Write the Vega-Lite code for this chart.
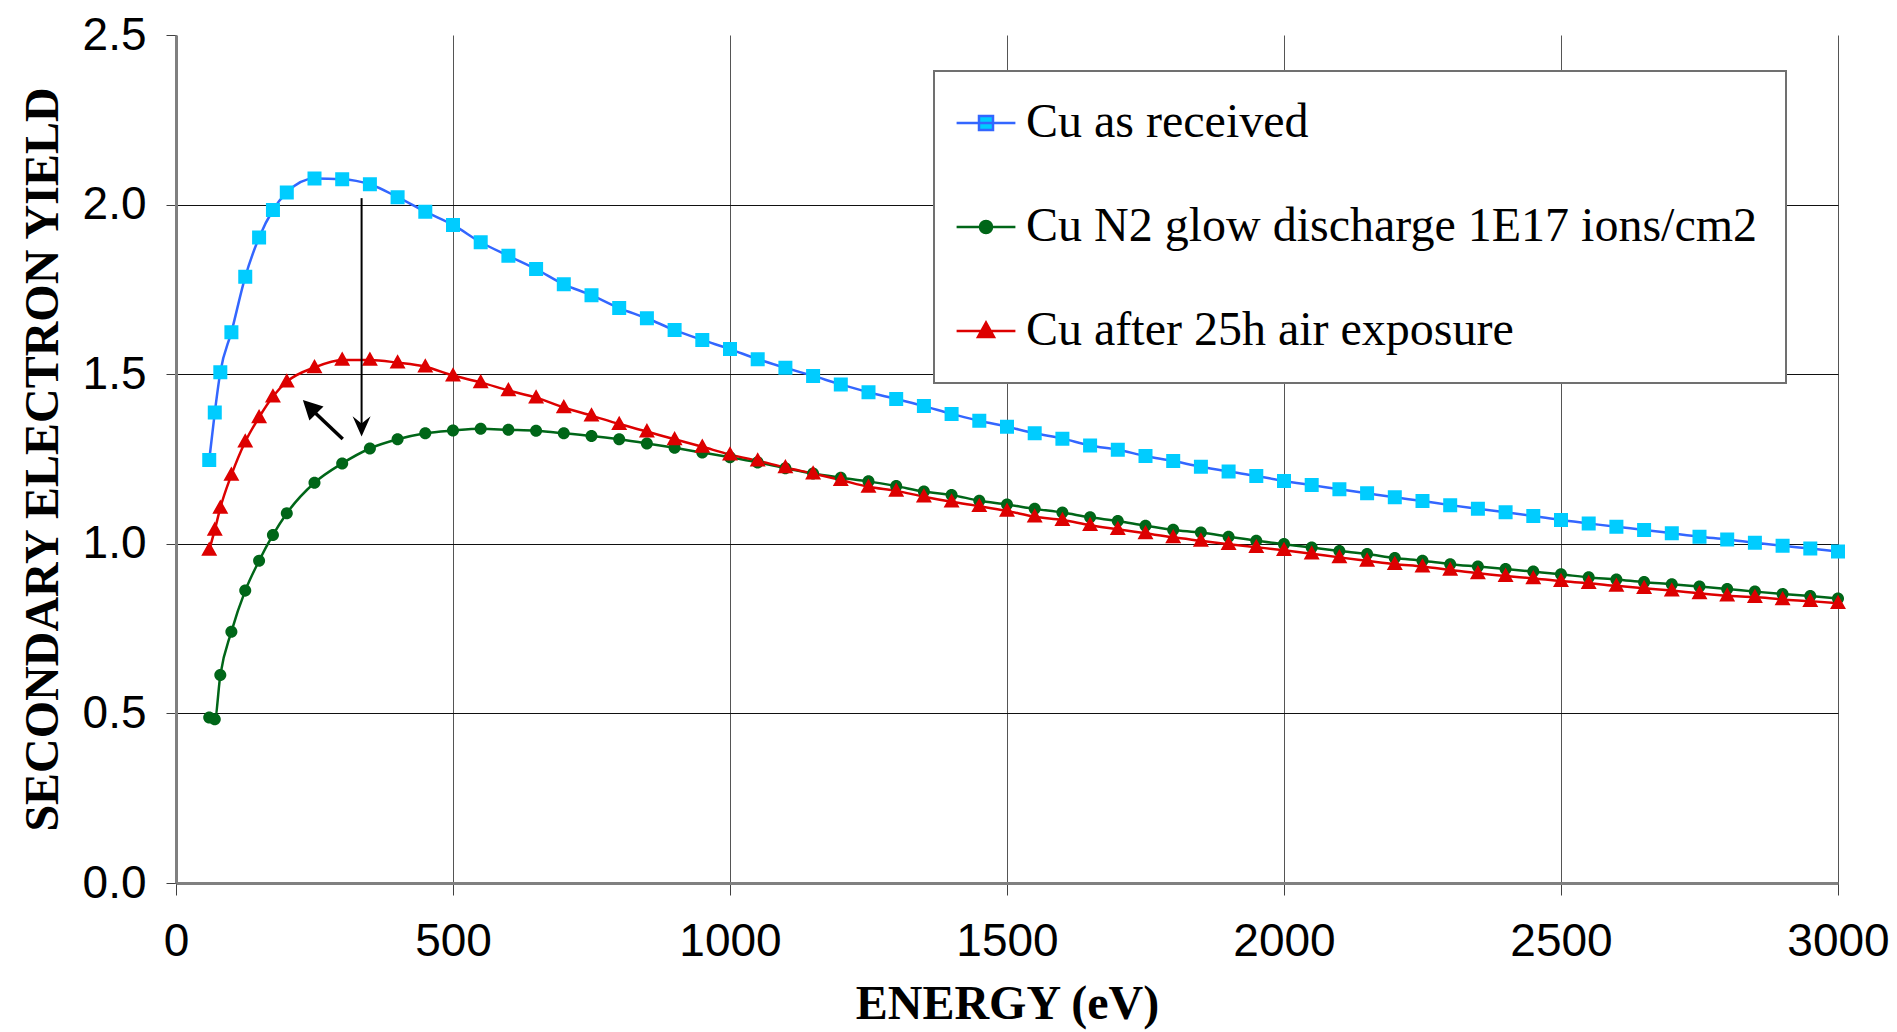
{
  "$schema": "https://vega.github.io/schema/vega-lite/v6.json",
  "width": 1662,
  "height": 848,
  "autosize": {"type": "none"},
  "padding": {"left": 176, "top": 35, "right": 59, "bottom": 149},
  "background": "white",
  "config": {
    "view": {"stroke": null},
    "axis": {
      "labelFont": "Liberation Sans",
      "labelFontSize": 46,
      "labelColor": "black",
      "labelFlush": false,
      "labelOverlap": false,
      "titleFont": "Liberation Serif",
      "titleFontSize": 48,
      "titleFontWeight": "bold",
      "titleColor": "black",
      "tickColor": "#404040",
      "tickWidth": 1,
      "domainColor": "#808080",
      "domainWidth": 3,
      "grid": true,
      "gridWidth": 1
    },
    "legend": {
      "orient": "none",
      "legendX": 758,
      "legendY": 36,
      "labelFont": "Liberation Serif",
      "labelFontSize": 48,
      "labelColor": "black",
      "labelLimit": 1200,
      "labelOffset": 16,
      "symbolSize": 784,
      "symbolStrokeWidth": 2.5,
      "rowPadding": 56,
      "padding": 28,
      "strokeColor": "#707070",
      "strokeWidth": 2,
      "fillColor": "white"
    }
  },
  "datasets": {
    "sey": [
      {"series": "Cu as received", "energy": 60, "sey": 1.247},
      {"series": "Cu as received", "energy": 70, "sey": 1.387},
      {"series": "Cu as received", "energy": 80, "sey": 1.506},
      {"series": "Cu as received", "energy": 100, "sey": 1.624},
      {"series": "Cu as received", "energy": 125, "sey": 1.787},
      {"series": "Cu as received", "energy": 150, "sey": 1.903},
      {"series": "Cu as received", "energy": 175, "sey": 1.984},
      {"series": "Cu as received", "energy": 200, "sey": 2.036},
      {"series": "Cu as received", "energy": 250, "sey": 2.077},
      {"series": "Cu as received", "energy": 300, "sey": 2.075},
      {"series": "Cu as received", "energy": 350, "sey": 2.060},
      {"series": "Cu as received", "energy": 400, "sey": 2.022},
      {"series": "Cu as received", "energy": 450, "sey": 1.979},
      {"series": "Cu as received", "energy": 500, "sey": 1.940},
      {"series": "Cu as received", "energy": 550, "sey": 1.889},
      {"series": "Cu as received", "energy": 600, "sey": 1.849},
      {"series": "Cu as received", "energy": 650, "sey": 1.810},
      {"series": "Cu as received", "energy": 700, "sey": 1.765},
      {"series": "Cu as received", "energy": 750, "sey": 1.733},
      {"series": "Cu as received", "energy": 800, "sey": 1.695},
      {"series": "Cu as received", "energy": 850, "sey": 1.665},
      {"series": "Cu as received", "energy": 900, "sey": 1.630},
      {"series": "Cu as received", "energy": 950, "sey": 1.601},
      {"series": "Cu as received", "energy": 1000, "sey": 1.574},
      {"series": "Cu as received", "energy": 1050, "sey": 1.544},
      {"series": "Cu as received", "energy": 1100, "sey": 1.519},
      {"series": "Cu as received", "energy": 1150, "sey": 1.495},
      {"series": "Cu as received", "energy": 1200, "sey": 1.470},
      {"series": "Cu as received", "energy": 1250, "sey": 1.447},
      {"series": "Cu as received", "energy": 1300, "sey": 1.427},
      {"series": "Cu as received", "energy": 1350, "sey": 1.406},
      {"series": "Cu as received", "energy": 1400, "sey": 1.383},
      {"series": "Cu as received", "energy": 1450, "sey": 1.363},
      {"series": "Cu as received", "energy": 1500, "sey": 1.345},
      {"series": "Cu as received", "energy": 1550, "sey": 1.326},
      {"series": "Cu as received", "energy": 1600, "sey": 1.310},
      {"series": "Cu as received", "energy": 1650, "sey": 1.290},
      {"series": "Cu as received", "energy": 1700, "sey": 1.277},
      {"series": "Cu as received", "energy": 1750, "sey": 1.259},
      {"series": "Cu as received", "energy": 1800, "sey": 1.244},
      {"series": "Cu as received", "energy": 1850, "sey": 1.227},
      {"series": "Cu as received", "energy": 1900, "sey": 1.213},
      {"series": "Cu as received", "energy": 1950, "sey": 1.200},
      {"series": "Cu as received", "energy": 2000, "sey": 1.185},
      {"series": "Cu as received", "energy": 2050, "sey": 1.173},
      {"series": "Cu as received", "energy": 2100, "sey": 1.161},
      {"series": "Cu as received", "energy": 2150, "sey": 1.149},
      {"series": "Cu as received", "energy": 2200, "sey": 1.137},
      {"series": "Cu as received", "energy": 2250, "sey": 1.126},
      {"series": "Cu as received", "energy": 2300, "sey": 1.114},
      {"series": "Cu as received", "energy": 2350, "sey": 1.103},
      {"series": "Cu as received", "energy": 2400, "sey": 1.093},
      {"series": "Cu as received", "energy": 2450, "sey": 1.082},
      {"series": "Cu as received", "energy": 2500, "sey": 1.070},
      {"series": "Cu as received", "energy": 2550, "sey": 1.060},
      {"series": "Cu as received", "energy": 2600, "sey": 1.050},
      {"series": "Cu as received", "energy": 2650, "sey": 1.041},
      {"series": "Cu as received", "energy": 2700, "sey": 1.031},
      {"series": "Cu as received", "energy": 2750, "sey": 1.021},
      {"series": "Cu as received", "energy": 2800, "sey": 1.013},
      {"series": "Cu as received", "energy": 2850, "sey": 1.003},
      {"series": "Cu as received", "energy": 2900, "sey": 0.994},
      {"series": "Cu as received", "energy": 2950, "sey": 0.986},
      {"series": "Cu as received", "energy": 3000, "sey": 0.977},
      {"series": "Cu N2 glow discharge 1E17 ions/cm2", "energy": 60, "sey": 0.488},
      {"series": "Cu N2 glow discharge 1E17 ions/cm2", "energy": 70, "sey": 0.483},
      {"series": "Cu N2 glow discharge 1E17 ions/cm2", "energy": 80, "sey": 0.613},
      {"series": "Cu N2 glow discharge 1E17 ions/cm2", "energy": 100, "sey": 0.741},
      {"series": "Cu N2 glow discharge 1E17 ions/cm2", "energy": 125, "sey": 0.862},
      {"series": "Cu N2 glow discharge 1E17 ions/cm2", "energy": 150, "sey": 0.950},
      {"series": "Cu N2 glow discharge 1E17 ions/cm2", "energy": 175, "sey": 1.026},
      {"series": "Cu N2 glow discharge 1E17 ions/cm2", "energy": 200, "sey": 1.090},
      {"series": "Cu N2 glow discharge 1E17 ions/cm2", "energy": 250, "sey": 1.180},
      {"series": "Cu N2 glow discharge 1E17 ions/cm2", "energy": 300, "sey": 1.237},
      {"series": "Cu N2 glow discharge 1E17 ions/cm2", "energy": 350, "sey": 1.281},
      {"series": "Cu N2 glow discharge 1E17 ions/cm2", "energy": 400, "sey": 1.308},
      {"series": "Cu N2 glow discharge 1E17 ions/cm2", "energy": 450, "sey": 1.326},
      {"series": "Cu N2 glow discharge 1E17 ions/cm2", "energy": 500, "sey": 1.334},
      {"series": "Cu N2 glow discharge 1E17 ions/cm2", "energy": 550, "sey": 1.339},
      {"series": "Cu N2 glow discharge 1E17 ions/cm2", "energy": 600, "sey": 1.336},
      {"series": "Cu N2 glow discharge 1E17 ions/cm2", "energy": 650, "sey": 1.333},
      {"series": "Cu N2 glow discharge 1E17 ions/cm2", "energy": 700, "sey": 1.326},
      {"series": "Cu N2 glow discharge 1E17 ions/cm2", "energy": 750, "sey": 1.318},
      {"series": "Cu N2 glow discharge 1E17 ions/cm2", "energy": 800, "sey": 1.308},
      {"series": "Cu N2 glow discharge 1E17 ions/cm2", "energy": 850, "sey": 1.296},
      {"series": "Cu N2 glow discharge 1E17 ions/cm2", "energy": 900, "sey": 1.283},
      {"series": "Cu N2 glow discharge 1E17 ions/cm2", "energy": 950, "sey": 1.269},
      {"series": "Cu N2 glow discharge 1E17 ions/cm2", "energy": 1000, "sey": 1.255},
      {"series": "Cu N2 glow discharge 1E17 ions/cm2", "energy": 1050, "sey": 1.240},
      {"series": "Cu N2 glow discharge 1E17 ions/cm2", "energy": 1100, "sey": 1.223},
      {"series": "Cu N2 glow discharge 1E17 ions/cm2", "energy": 1150, "sey": 1.207},
      {"series": "Cu N2 glow discharge 1E17 ions/cm2", "energy": 1200, "sey": 1.195},
      {"series": "Cu N2 glow discharge 1E17 ions/cm2", "energy": 1250, "sey": 1.184},
      {"series": "Cu N2 glow discharge 1E17 ions/cm2", "energy": 1300, "sey": 1.170},
      {"series": "Cu N2 glow discharge 1E17 ions/cm2", "energy": 1350, "sey": 1.154},
      {"series": "Cu N2 glow discharge 1E17 ions/cm2", "energy": 1400, "sey": 1.144},
      {"series": "Cu N2 glow discharge 1E17 ions/cm2", "energy": 1450, "sey": 1.127},
      {"series": "Cu N2 glow discharge 1E17 ions/cm2", "energy": 1500, "sey": 1.116},
      {"series": "Cu N2 glow discharge 1E17 ions/cm2", "energy": 1550, "sey": 1.103},
      {"series": "Cu N2 glow discharge 1E17 ions/cm2", "energy": 1600, "sey": 1.092},
      {"series": "Cu N2 glow discharge 1E17 ions/cm2", "energy": 1650, "sey": 1.078},
      {"series": "Cu N2 glow discharge 1E17 ions/cm2", "energy": 1700, "sey": 1.067},
      {"series": "Cu N2 glow discharge 1E17 ions/cm2", "energy": 1750, "sey": 1.053},
      {"series": "Cu N2 glow discharge 1E17 ions/cm2", "energy": 1800, "sey": 1.041},
      {"series": "Cu N2 glow discharge 1E17 ions/cm2", "energy": 1850, "sey": 1.033},
      {"series": "Cu N2 glow discharge 1E17 ions/cm2", "energy": 1900, "sey": 1.021},
      {"series": "Cu N2 glow discharge 1E17 ions/cm2", "energy": 1950, "sey": 1.009},
      {"series": "Cu N2 glow discharge 1E17 ions/cm2", "energy": 2000, "sey": 0.999},
      {"series": "Cu N2 glow discharge 1E17 ions/cm2", "energy": 2050, "sey": 0.989},
      {"series": "Cu N2 glow discharge 1E17 ions/cm2", "energy": 2100, "sey": 0.979},
      {"series": "Cu N2 glow discharge 1E17 ions/cm2", "energy": 2150, "sey": 0.970},
      {"series": "Cu N2 glow discharge 1E17 ions/cm2", "energy": 2200, "sey": 0.958},
      {"series": "Cu N2 glow discharge 1E17 ions/cm2", "energy": 2250, "sey": 0.950},
      {"series": "Cu N2 glow discharge 1E17 ions/cm2", "energy": 2300, "sey": 0.940},
      {"series": "Cu N2 glow discharge 1E17 ions/cm2", "energy": 2350, "sey": 0.933},
      {"series": "Cu N2 glow discharge 1E17 ions/cm2", "energy": 2400, "sey": 0.926},
      {"series": "Cu N2 glow discharge 1E17 ions/cm2", "energy": 2450, "sey": 0.918},
      {"series": "Cu N2 glow discharge 1E17 ions/cm2", "energy": 2500, "sey": 0.910},
      {"series": "Cu N2 glow discharge 1E17 ions/cm2", "energy": 2550, "sey": 0.901},
      {"series": "Cu N2 glow discharge 1E17 ions/cm2", "energy": 2600, "sey": 0.895},
      {"series": "Cu N2 glow discharge 1E17 ions/cm2", "energy": 2650, "sey": 0.887},
      {"series": "Cu N2 glow discharge 1E17 ions/cm2", "energy": 2700, "sey": 0.881},
      {"series": "Cu N2 glow discharge 1E17 ions/cm2", "energy": 2750, "sey": 0.874},
      {"series": "Cu N2 glow discharge 1E17 ions/cm2", "energy": 2800, "sey": 0.867},
      {"series": "Cu N2 glow discharge 1E17 ions/cm2", "energy": 2850, "sey": 0.859},
      {"series": "Cu N2 glow discharge 1E17 ions/cm2", "energy": 2900, "sey": 0.852},
      {"series": "Cu N2 glow discharge 1E17 ions/cm2", "energy": 2950, "sey": 0.846},
      {"series": "Cu N2 glow discharge 1E17 ions/cm2", "energy": 3000, "sey": 0.839},
      {"series": "Cu after 25h air exposure", "energy": 60, "sey": 0.982},
      {"series": "Cu after 25h air exposure", "energy": 70, "sey": 1.041},
      {"series": "Cu after 25h air exposure", "energy": 80, "sey": 1.106},
      {"series": "Cu after 25h air exposure", "energy": 100, "sey": 1.203},
      {"series": "Cu after 25h air exposure", "energy": 125, "sey": 1.301},
      {"series": "Cu after 25h air exposure", "energy": 150, "sey": 1.373},
      {"series": "Cu after 25h air exposure", "energy": 175, "sey": 1.434},
      {"series": "Cu after 25h air exposure", "energy": 200, "sey": 1.478},
      {"series": "Cu after 25h air exposure", "energy": 250, "sey": 1.520},
      {"series": "Cu after 25h air exposure", "energy": 300, "sey": 1.542},
      {"series": "Cu after 25h air exposure", "energy": 350, "sey": 1.542},
      {"series": "Cu after 25h air exposure", "energy": 400, "sey": 1.534},
      {"series": "Cu after 25h air exposure", "energy": 450, "sey": 1.522},
      {"series": "Cu after 25h air exposure", "energy": 500, "sey": 1.496},
      {"series": "Cu after 25h air exposure", "energy": 550, "sey": 1.476},
      {"series": "Cu after 25h air exposure", "energy": 600, "sey": 1.452},
      {"series": "Cu after 25h air exposure", "energy": 650, "sey": 1.431},
      {"series": "Cu after 25h air exposure", "energy": 700, "sey": 1.402},
      {"series": "Cu after 25h air exposure", "energy": 750, "sey": 1.378},
      {"series": "Cu after 25h air exposure", "energy": 800, "sey": 1.353},
      {"series": "Cu after 25h air exposure", "energy": 850, "sey": 1.331},
      {"series": "Cu after 25h air exposure", "energy": 900, "sey": 1.308},
      {"series": "Cu after 25h air exposure", "energy": 950, "sey": 1.286},
      {"series": "Cu after 25h air exposure", "energy": 1000, "sey": 1.263},
      {"series": "Cu after 25h air exposure", "energy": 1050, "sey": 1.245},
      {"series": "Cu after 25h air exposure", "energy": 1100, "sey": 1.225},
      {"series": "Cu after 25h air exposure", "energy": 1150, "sey": 1.207},
      {"series": "Cu after 25h air exposure", "energy": 1200, "sey": 1.188},
      {"series": "Cu after 25h air exposure", "energy": 1250, "sey": 1.168},
      {"series": "Cu after 25h air exposure", "energy": 1300, "sey": 1.156},
      {"series": "Cu after 25h air exposure", "energy": 1350, "sey": 1.139},
      {"series": "Cu after 25h air exposure", "energy": 1400, "sey": 1.124},
      {"series": "Cu after 25h air exposure", "energy": 1450, "sey": 1.111},
      {"series": "Cu after 25h air exposure", "energy": 1500, "sey": 1.097},
      {"series": "Cu after 25h air exposure", "energy": 1550, "sey": 1.080},
      {"series": "Cu after 25h air exposure", "energy": 1600, "sey": 1.070},
      {"series": "Cu after 25h air exposure", "energy": 1650, "sey": 1.055},
      {"series": "Cu after 25h air exposure", "energy": 1700, "sey": 1.043},
      {"series": "Cu after 25h air exposure", "energy": 1750, "sey": 1.031},
      {"series": "Cu after 25h air exposure", "energy": 1800, "sey": 1.019},
      {"series": "Cu after 25h air exposure", "energy": 1850, "sey": 1.009},
      {"series": "Cu after 25h air exposure", "energy": 1900, "sey": 0.999},
      {"series": "Cu after 25h air exposure", "energy": 1950, "sey": 0.990},
      {"series": "Cu after 25h air exposure", "energy": 2000, "sey": 0.981},
      {"series": "Cu after 25h air exposure", "energy": 2050, "sey": 0.971},
      {"series": "Cu after 25h air exposure", "energy": 2100, "sey": 0.960},
      {"series": "Cu after 25h air exposure", "energy": 2150, "sey": 0.950},
      {"series": "Cu after 25h air exposure", "energy": 2200, "sey": 0.940},
      {"series": "Cu after 25h air exposure", "energy": 2250, "sey": 0.933},
      {"series": "Cu after 25h air exposure", "energy": 2300, "sey": 0.923},
      {"series": "Cu after 25h air exposure", "energy": 2350, "sey": 0.913},
      {"series": "Cu after 25h air exposure", "energy": 2400, "sey": 0.905},
      {"series": "Cu after 25h air exposure", "energy": 2450, "sey": 0.898},
      {"series": "Cu after 25h air exposure", "energy": 2500, "sey": 0.890},
      {"series": "Cu after 25h air exposure", "energy": 2550, "sey": 0.884},
      {"series": "Cu after 25h air exposure", "energy": 2600, "sey": 0.876},
      {"series": "Cu after 25h air exposure", "energy": 2650, "sey": 0.869},
      {"series": "Cu after 25h air exposure", "energy": 2700, "sey": 0.862},
      {"series": "Cu after 25h air exposure", "energy": 2750, "sey": 0.854},
      {"series": "Cu after 25h air exposure", "energy": 2800, "sey": 0.847},
      {"series": "Cu after 25h air exposure", "energy": 2850, "sey": 0.843},
      {"series": "Cu after 25h air exposure", "energy": 2900, "sey": 0.836},
      {"series": "Cu after 25h air exposure", "energy": 2950, "sey": 0.831},
      {"series": "Cu after 25h air exposure", "energy": 3000, "sey": 0.825}
    ],
    "arrowDown": [{"energy": 335, "sey": 2.019, "energy2": 335, "sey2": 1.35}],
    "arrowDownHead": [{"energy": 335, "sey": 1.316}],
    "arrowDiag": [{"energy": 301, "sey": 1.309, "energy2": 250, "sey2": 1.388}],
    "arrowDiagHead": [{"energy": 229, "sey": 1.424}]
  },
  "layer": [
    {
      "data": {"name": "sey"},
      "mark": {"type": "line", "interpolate": "monotone", "strokeWidth": 2.5},
      "encoding": {
        "x": {
          "field": "energy", "type": "quantitative",
          "scale": {"domain": [0, 3000], "nice": false},
          "axis": {
            "title": "ENERGY (eV)",
            "values": [0, 500, 1000, 1500, 2000, 2500, 3000],
            "format": "d",
            "tickSize": 12,
            "labelPadding": 24,
            "titlePadding": 16,
            "gridColor": "#555555"
          }
        },
        "y": {
          "field": "sey", "type": "quantitative",
          "scale": {"domain": [0, 2.5], "nice": false},
          "axis": {
            "title": "SECONDARY ELECTRON YIELD",
            "values": [0, 0.5, 1, 1.5, 2, 2.5],
            "format": ".1f",
            "tickSize": 10,
            "labelPadding": 20,
            "titlePadding": 15,
            "gridColor": "#111111",
            "gridOpacity": {"condition": {"test": "datum.value === 2.5", "value": 0}, "value": 1}
          }
        },
        "stroke": {
          "field": "series", "type": "nominal",
          "scale": {
            "domain": ["Cu as received", "Cu N2 glow discharge 1E17 ions/cm2", "Cu after 25h air exposure"],
            "range": ["#3366ff", "#006618", "#dd0000"]
          },
          "legend": {"title": null}
        }
      }
    },
    {
      "data": {"name": "sey"},
      "mark": {"type": "point", "filled": true, "opacity": 1, "size": 784},
      "encoding": {
        "x": {"field": "energy", "type": "quantitative"},
        "y": {"field": "sey", "type": "quantitative"},
        "fill": {
          "field": "series", "type": "nominal",
          "scale": {
            "domain": ["Cu as received", "Cu N2 glow discharge 1E17 ions/cm2", "Cu after 25h air exposure"],
            "range": ["#00ccff", "#006618", "#dd0000"]
          }
        },
        "shape": {
          "field": "series", "type": "nominal",
          "scale": {
            "domain": ["Cu as received", "Cu N2 glow discharge 1E17 ions/cm2", "Cu after 25h air exposure"],
            "range": [
              "M-2.1,0H2.1M-0.5,-0.5H0.5V0.5H-0.5Z",
              "M-2.1,0H2.1M0.43,0A0.43,0.43 0 1,1 -0.43,0A0.43,0.43 0 1,1 0.43,0Z",
              "M-2.1,0H2.1M0,-0.6L0.57,0.42H-0.57Z"
            ]
          }
        }
      }
    },
    {
      "data": {"name": "arrowDown"},
      "mark": {"type": "rule", "color": "black", "strokeWidth": 2},
      "encoding": {
        "x": {"field": "energy", "type": "quantitative"},
        "y": {"field": "sey", "type": "quantitative"},
        "x2": {"field": "energy2"},
        "y2": {"field": "sey2"}
      }
    },
    {
      "data": {"name": "arrowDownHead"},
      "mark": {"type": "point", "shape": "M0,0L-0.75,-1.7L0,-1.1L0.75,-1.7Z", "filled": true, "color": "black", "opacity": 1, "size": 576},
      "encoding": {
        "x": {"field": "energy", "type": "quantitative"},
        "y": {"field": "sey", "type": "quantitative"}
      }
    },
    {
      "data": {"name": "arrowDiag"},
      "mark": {"type": "rule", "color": "black", "strokeWidth": 3.5},
      "encoding": {
        "x": {"field": "energy", "type": "quantitative"},
        "y": {"field": "sey", "type": "quantitative"},
        "x2": {"field": "energy2"},
        "y2": {"field": "sey2"}
      }
    },
    {
      "data": {"name": "arrowDiagHead"},
      "mark": {"type": "point", "shape": "M0,0L0.83,1.6L-0.83,1.6Z", "angle": 315, "filled": true, "color": "black", "opacity": 1, "size": 576},
      "encoding": {
        "x": {"field": "energy", "type": "quantitative"},
        "y": {"field": "sey", "type": "quantitative"}
      }
    }
  ]
}
